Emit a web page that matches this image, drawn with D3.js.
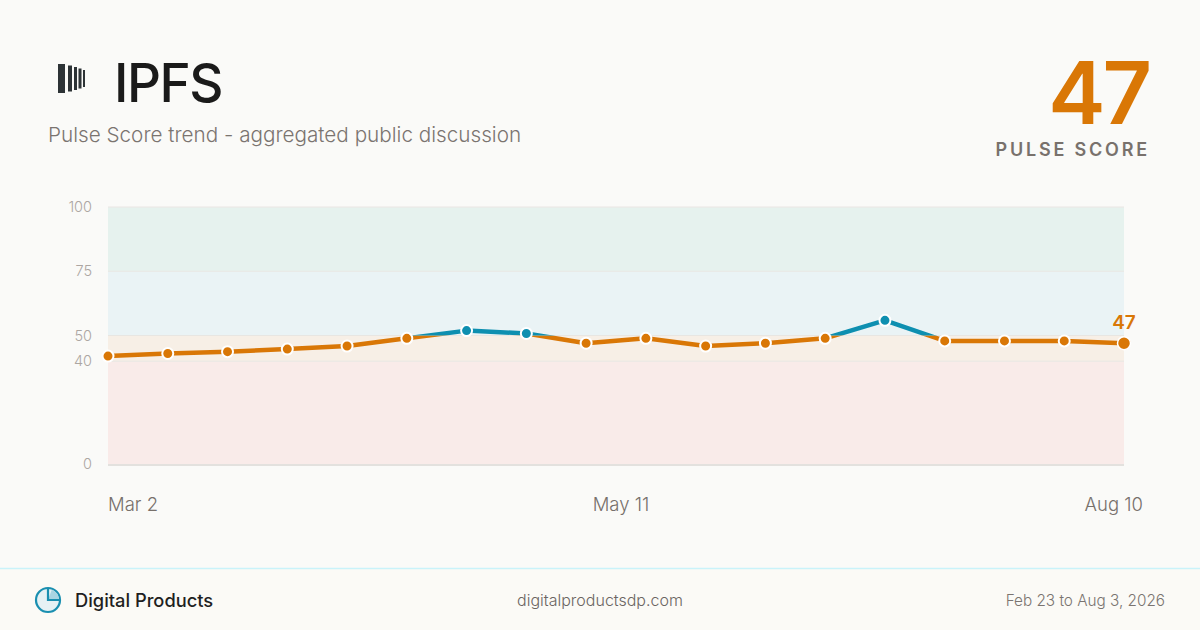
<!DOCTYPE html>
<html>
<head>
<meta charset="utf-8">
<script src="https://cdn.jsdelivr.net/npm/d3@7"></script>
<style>
  html, body { margin: 0; padding: 0; background: #fafaf8; }
  svg { display: block; font-family: Inter, "Open Sans", sans-serif; }
</style>
</head>
<body>
<svg id="chart" width="1200" height="630"></svg>
<script>
// weekly pulse scores
const scores = [42, 43, 43.7, 44.7, 45.9, 48.9, 51.9, 50.8, 47, 48.9, 45.9, 47, 48.9, 55.9, 47.9, 47.9, 47.9, 47];
const yTicks = [0, 40, 50, 75, 100];
const xLabels = ["Mar 2", "May 11", "Aug 10"];
const bands = [
  { from: 75, to: 100, fill: "#e6f2ee" },
  { from: 50, to: 75, fill: "#eaf3f5" },
  { from: 40, to: 50, fill: "#f7efe6" },
  { from: 0, to: 40, fill: "#f9ebe9" }
];
const threshold = 50;
const current = 47;

const orange = "#d97706", blue = "#0e8fb0";

const svg = d3.select("#chart");

// background + footer
svg.append("rect").attr("width", 1200).attr("height", 630).attr("fill", "#fafaf8");
svg.append("rect").attr("y", 568).attr("width", 1200).attr("height", 62).attr("fill", "#fbfaf6");
svg.append("line").attr("x1", 0).attr("x2", 1200).attr("y1", 568.5).attr("y2", 568.5)
  .attr("stroke", "#c9f3fa").attr("stroke-width", 1.5);

// header logo: five bars
const logoBars = [[58, 7, 64, 93], [68, 4, 65.5, 91.5], [74, 3, 67, 90], [78.5, 3, 68.5, 88.5], [83, 2, 70, 87]];
svg.append("g").selectAll("rect").data(logoBars).join("rect")
  .attr("x", d => d[0]).attr("width", d => d[1])
  .attr("y", d => d[2]).attr("height", d => d[3] - d[2])
  .attr("fill", "#2d3336");

svg.append("text").attr("x", 114).attr("y", 102)
  .attr("font-size", 53).attr("font-weight", 500).attr("fill", "#1a1a1a")
  .attr("letter-spacing", -1.5).text("IPFS");
svg.append("text").attr("x", 48).attr("y", 142)
  .attr("font-size", 20.7).attr("font-weight", 300).attr("fill", "#7a7470")
  .text("Pulse Score trend - aggregated public discussion");

svg.append("text").attr("x", 1149).attr("y", 124).attr("text-anchor", "end")
  .attr("font-size", 86).attr("font-weight", 600).attr("fill", orange)
  .attr("letter-spacing", -3).text(current);
svg.append("text").attr("x", 1150).attr("y", 156).attr("text-anchor", "end")
  .attr("font-size", 18).attr("font-weight", 600).attr("fill", "#78716c")
  .attr("letter-spacing", 2.8).text("PULSE SCORE");

// chart
const x = d3.scaleLinear().domain([0, scores.length - 1]).range([108, 1124]);
const y = d3.scaleLinear().domain([0, 100]).range([464, 207]);

const g = svg.append("g");
g.selectAll("rect.band").data(bands).join("rect")
  .attr("class", "band")
  .attr("x", x.range()[0]).attr("width", x.range()[1] - x.range()[0])
  .attr("y", d => y(d.to)).attr("height", d => y(d.from) - y(d.to))
  .attr("fill", d => d.fill);

g.selectAll("line.grid").data([100, 75, 50, 40]).join("line")
  .attr("class", "grid")
  .attr("x1", x.range()[0]).attr("x2", x.range()[1])
  .attr("y1", d => y(d)).attr("y2", d => y(d))
  .attr("stroke", d => d === 100 ? "#ebe6e4" : "#e8e6e2").attr("stroke-width", 1);
g.append("line")
  .attr("x1", x.range()[0]).attr("x2", x.range()[1])
  .attr("y1", y(0) + 1).attr("y2", y(0) + 1)
  .attr("stroke", "#e3e1de").attr("stroke-width", 2);

// y axis labels
const yAxis = g.append("g").attr("transform", "translate(92,0)")
  .call(d3.axisLeft(y).tickValues(yTicks).tickSize(0).tickPadding(0));
yAxis.select(".domain").remove();
yAxis.selectAll("text").attr("font-size", 14.5).attr("font-weight", 300)
  .attr("fill", "#aca6a2").attr("font-family", "Inter, sans-serif");

// x labels: first, middle, last
const xPos = [0, (scores.length - 1) / 2, scores.length - 1];
const anchors = ["start", "middle", "end"];
const xOff = [0, 5, 19];
g.selectAll("text.xl").data(xLabels).join("text")
  .attr("class", "xl")
  .attr("x", (d, i) => x(xPos[i]) + xOff[i]).attr("y", 511)
  .attr("text-anchor", (d, i) => anchors[i])
  .attr("font-size", 18.5).attr("font-weight", 300).attr("fill", "#77706b")
  .text(d => d);

// line, coloured by threshold
const line = d3.line().x((d, i) => x(i)).y(d => y(d));
const defs = svg.append("defs");
defs.append("clipPath").attr("id", "above").append("rect")
  .attr("x", 0).attr("y", 0).attr("width", 1200).attr("height", y(threshold));
defs.append("clipPath").attr("id", "below").append("rect")
  .attr("x", 0).attr("y", y(threshold)).attr("width", 1200).attr("height", 630);

[["below", orange], ["above", blue]].forEach(([id, c]) => {
  g.append("path").datum(scores)
    .attr("d", line).attr("fill", "none")
    .attr("stroke", c).attr("stroke-width", 4.5)
    .attr("stroke-linejoin", "round").attr("stroke-linecap", "round")
    .attr("clip-path", `url(#${id})`);
});

const last = scores.length - 1;
g.selectAll("circle").data(scores).join("circle")
  .attr("cx", (d, i) => x(i)).attr("cy", d => y(d))
  .attr("r", (d, i) => i === last ? 6.5 : 5.5)
  .attr("fill", d => d > threshold ? blue : orange)
  .attr("stroke", "#fff").attr("stroke-width", (d, i) => i === last ? 1.5 : 2);

g.append("text").attr("x", x(last)).attr("y", y(scores[last]) - 14)
  .attr("text-anchor", "middle").attr("font-size", 19).attr("font-weight", 600)
  .attr("fill", orange).text(current);

// footer
const icon = svg.append("g").attr("transform", "translate(48,600)");
icon.append("circle").attr("r", 12).attr("fill", "#e6f1f4").attr("stroke", "#1a8fb0").attr("stroke-width", 2.2);
icon.append("path")
  .attr("d", d3.arc().innerRadius(0).outerRadius(11)({ startAngle: 0.35, endAngle: Math.PI / 2 }))
  .attr("fill", "#a9d5e2");
icon.append("path").attr("d", "M0,-11 L0,0 L11,0").attr("fill", "none")
  .attr("stroke", "#1a8fb0").attr("stroke-width", 2.2);

svg.append("text").attr("x", 75).attr("y", 607)
  .attr("font-size", 18.3).attr("font-weight", 500).attr("fill", "#1f1f1f")
  .text("Digital Products");
svg.append("text").attr("x", 600).attr("y", 606).attr("text-anchor", "middle")
  .attr("font-size", 16).attr("font-weight", 300).attr("fill", "#6b6562")
  .text("digitalproductsdp.com");
svg.append("text").attr("x", 1165).attr("y", 606).attr("text-anchor", "end")
  .attr("font-size", 15.3).attr("font-weight", 300).attr("fill", "#7a7470")
  .text("Feb 23 to Aug 3, 2026");
</script>
</body>
</html>
